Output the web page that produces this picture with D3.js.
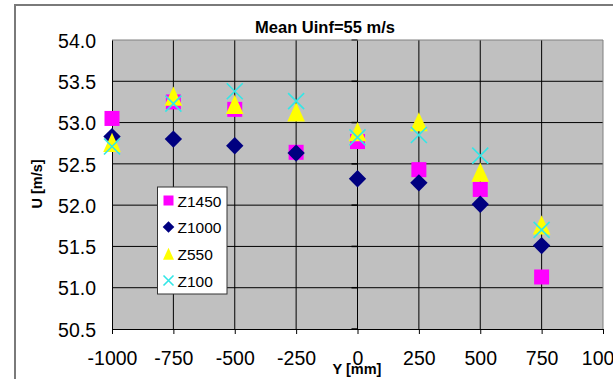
<!DOCTYPE html>
<html><head><meta charset="utf-8">
<script src="https://cdn.jsdelivr.net/npm/d3@7"></script>
<style>body{margin:0;background:#fff}svg{display:block}</style>
</head><body>
<script>
const yPositions = [-1000, -750, -500, -250, 0, 250, 500, 750];
const z1450 = [53.05, 53.25, 53.16, 52.64, 52.77, 52.43, 52.19, 51.13];
const z1000 = [52.83, 52.80, 52.72, 52.63, 52.32, 52.27, 52.01, 51.51];
const z550  = [52.76, 53.32, 53.22, 53.13, 52.89, 53.01, 52.40, 51.76];
const z100  = [52.71, 53.23, 53.38, 53.26, 52.82, 52.85, 52.60, 51.70];
const xTicks = [-1000, -750, -500, -250, 0, 250, 500, 750, 1000];
const yTicks = [50.5, 51.0, 51.5, 52.0, 52.5, 53.0, 53.5, 54.0];
const seriesNames = ["Z1450", "Z1000", "Z550", "Z100"];
const title = "Mean Uinf=55 m/s";
const xTitle = "Y [mm]";
const yTitle = "U [m/s]";

const W = 613, H = 379;
const svg = d3.select("body").append("svg").attr("width", W).attr("height", H);
const font = "'Liberation Sans', Arial, sans-serif";

const x = d3.scaleLinear().domain([-1000, 1000]).range([112, 603]);
const y = d3.scaleLinear().domain([50.5, 54]).range([329, 40]);

// outer frame
svg.append("path").attr("d", `M15,${H} L15,5 L${W},5`).attr("fill", "none")
  .attr("stroke", "#7a7a7a").attr("stroke-width", 2);

// plot area
svg.append("rect").attr("x", x(-1000)).attr("y", y(54)).attr("width", x(1000) - x(-1000))
  .attr("height", y(50.5) - y(54)).attr("fill", "#c0c0c0");

// gridlines
const g = svg.append("g");
g.selectAll(".hg").data(yTicks.filter(d => d > 50.5 && d < 54)).enter().append("line")
  .attr("x1", x(-1000)).attr("x2", x(1000)).attr("y1", d => y(d)).attr("y2", d => y(d))
  .attr("stroke", "#000").attr("stroke-width", 1);
g.selectAll(".vg").data(xTicks.filter(d => d > -1000 && d < 1000)).enter().append("line")
  .attr("x1", d => x(d)).attr("x2", d => x(d)).attr("y1", y(54)).attr("y2", y(50.5))
  .attr("stroke", "#000").attr("stroke-width", 1);
// small ticks at x=0
g.selectAll(".zt").data(yTicks).enter().append("line")
  .attr("x1", x(0) - 6).attr("x2", x(0)).attr("y1", d => y(d)).attr("y2", d => y(d))
  .attr("stroke", "#000").attr("stroke-width", 1.5);
// top & right border gray
svg.append("path").attr("d", `M${x(-1000)},${y(54)} L${x(1000)},${y(54)} L${x(1000)},${y(50.5)}`)
  .attr("fill", "none").attr("stroke", "#808080").attr("stroke-width", 1);

// axes
const xAxis = svg.append("g").attr("transform", `translate(0,${y(50.5)})`)
  .call(d3.axisBottom(x).tickValues(xTicks).tickSize(5).tickSizeOuter(0).tickFormat(d => String(d)));
xAxis.select(".domain").attr("stroke", "#000");
xAxis.selectAll(".tick line").attr("stroke", "#000");
xAxis.selectAll("text").attr("font-family", font).attr("font-size", "19.5px").attr("fill", "#000")
  .attr("y", 0).attr("dy", 0).attr("transform", "translate(0,36)");

const yAxis = svg.append("g").attr("transform", `translate(${x(-1000)},0)`)
  .call(d3.axisLeft(y).tickValues(yTicks).tickSize(0).tickSizeOuter(0).tickFormat(d => d.toFixed(1)));
yAxis.select(".domain").attr("stroke", "#000");
yAxis.selectAll("text").attr("font-family", font).attr("font-size", "19.5px").attr("fill", "#000")
  .attr("x", -16).attr("dy", "0.37em");

// titles
svg.append("text").attr("x", 325).attr("y", 32.5).attr("text-anchor", "middle")
  .attr("font-family", font).attr("font-size", "16.5px").attr("font-weight", "bold").text(title);
svg.append("text").attr("x", 357).attr("y", 374).attr("text-anchor", "middle")
  .attr("font-family", font).attr("font-size", "14.5px").attr("font-weight", "bold").text(xTitle);
svg.append("text").attr("transform", "translate(42,184) rotate(-90)").attr("text-anchor", "middle")
  .attr("font-family", font).attr("font-size", "14.5px").attr("font-weight", "bold").text(yTitle);

// marker shapes
function drawMarker(sel, type, s) {
  if (type === 0) {
    sel.append("rect").attr("x", -s / 2).attr("y", -s / 2).attr("width", s).attr("height", s).attr("fill", "#ff00ff");
  } else if (type === 1) {
    const h = s * 0.58;
    sel.append("path").attr("d", `M0,${-h} L${h},0 L0,${h} L${-h},0 Z`).attr("fill", "#000080");
  } else if (type === 2) {
    const w = s * 0.55, hh = s * 0.6;
    sel.append("path").attr("d", `M0,${-hh} L${w},${hh} L${-w},${hh} Z`).attr("fill", "#ffff00");
  } else {
    const a = s * 0.5;
    sel.append("path").attr("d", `M${-a},${-a} L${a},${a} M${-a},${a} L${a},${-a}`)
      .attr("stroke", "#33e6e6").attr("stroke-width", 1.6).attr("fill", "none");
  }
}

const allSeries = [z1450, z1000, z550, z100];
const sizes = [15, 15, 16, 16];
allSeries.forEach((vals, si) => {
  const gg = svg.append("g");
  vals.forEach((v, i) => {
    const m = gg.append("g").attr("transform", `translate(${x(yPositions[i])},${y(v)})`);
    drawMarker(m, si, sizes[si]);
  });
});

// legend
const lg = svg.append("g");
lg.append("rect").attr("x", 157.5).attr("y", 187).attr("width", 69.5).attr("height", 107)
  .attr("fill", "#fff").attr("stroke", "#333").attr("stroke-width", 1);
const baselines = [206.5, 233, 259.8, 286.5];
seriesNames.forEach((n, i) => {
  const m = lg.append("g").attr("transform", `translate(168.5,${baselines[i] - 6})`);
  drawMarker(m, i, 10);
  lg.append("text").attr("x", 177.5).attr("y", baselines[i]).attr("font-family", font)
    .attr("font-size", "15.5px").attr("fill", "#000").text(n);
});
</script>
</body></html>
